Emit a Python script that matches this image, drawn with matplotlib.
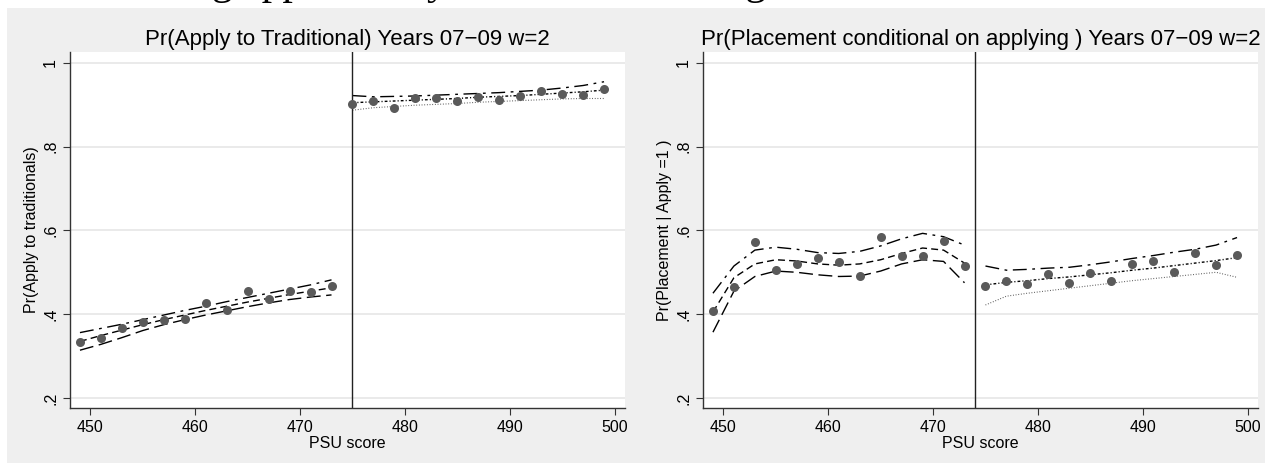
import numpy as np
import matplotlib.pyplot as plt
from matplotlib.patches import Rectangle

# ---- data ----
x_left = [449, 451, 453, 455, 457, 459, 461, 463, 465, 467, 469, 471, 473]
x_right = [475, 477, 479, 481, 483, 485, 487, 489, 491, 493, 495, 497, 499]

# panel 1: Pr(Apply to Traditional)
apply_pts_l = [0.333, 0.343, 0.366, 0.381, 0.385, 0.388, 0.427, 0.410, 0.456, 0.436, 0.456, 0.453, 0.468]
apply_pts_r = [0.902, 0.910, 0.893, 0.915, 0.915, 0.910, 0.918, 0.911, 0.921, 0.933, 0.925, 0.923, 0.937]
apply_fit_l = [0.335, 0.349, 0.362, 0.375, 0.387, 0.398, 0.409, 0.419, 0.429, 0.438, 0.447, 0.455, 0.463]
apply_hi_l = [0.356, 0.366, 0.376, 0.387, 0.398, 0.409, 0.419, 0.430, 0.440, 0.450, 0.460, 0.470, 0.482]
apply_lo_l = [0.314, 0.328, 0.344, 0.361, 0.375, 0.387, 0.398, 0.408, 0.418, 0.427, 0.435, 0.441, 0.446]
apply_fit_r = [0.905, 0.907, 0.909, 0.911, 0.913, 0.915, 0.918, 0.920, 0.922, 0.925, 0.928, 0.931, 0.935]
apply_hi_r = [0.922, 0.919, 0.920, 0.921, 0.923, 0.925, 0.927, 0.929, 0.932, 0.935, 0.940, 0.946, 0.955]
apply_lo_r = [0.887, 0.893, 0.896, 0.899, 0.901, 0.903, 0.906, 0.908, 0.910, 0.912, 0.914, 0.915, 0.915]

# panel 2: Pr(Placement | Apply = 1)
place_pts_l = [0.408, 0.466, 0.572, 0.505, 0.520, 0.533, 0.525, 0.490, 0.585, 0.540, 0.540, 0.575, 0.515]
place_pts_r = [0.467, 0.480, 0.473, 0.495, 0.475, 0.498, 0.480, 0.520, 0.528, 0.500, 0.547, 0.518, 0.542]
place_fit_l = [0.405, 0.487, 0.520, 0.530, 0.527, 0.520, 0.517, 0.520, 0.530, 0.545, 0.558, 0.553, 0.522]
place_hi_l = [0.450, 0.515, 0.553, 0.560, 0.555, 0.547, 0.545, 0.550, 0.563, 0.580, 0.593, 0.585, 0.565]
place_lo_l = [0.357, 0.455, 0.490, 0.503, 0.500, 0.494, 0.490, 0.491, 0.503, 0.520, 0.530, 0.526, 0.475]
place_fit_r = [0.470, 0.476, 0.480, 0.485, 0.489, 0.494, 0.499, 0.505, 0.510, 0.516, 0.522, 0.528, 0.535]
place_hi_r = [0.515, 0.505, 0.507, 0.510, 0.512, 0.518, 0.525, 0.533, 0.540, 0.548, 0.555, 0.565, 0.583]
place_lo_r = [0.422, 0.443, 0.450, 0.456, 0.462, 0.468, 0.474, 0.480, 0.485, 0.490, 0.495, 0.500, 0.488]

cutoffs = [475, 474]
titles = ["Pr(Apply to Traditional) Years 07\u221209 w=2",
          "Pr(Placement conditional on applying ) Years 07\u221209 w=2"]
ylabels = ["Pr(Apply to traditionals)", "Pr(Placement | Apply =1 )"]
yticks = [0.2, 0.4, 0.6, 0.8, 1.0]
yticklabels = [".2", ".4", ".6", ".8", "1"]
xticks = [450, 460, 470, 480, 490, 500]

plt.rcParams['font.family'] = ['Liberation Sans', 'DejaVu Sans']

fig = plt.figure(figsize=(12.65, 4.63), dpi=100)
fig.patch.set_facecolor('white')
fig.patches.append(Rectangle((7 / 1265, 0), 1, 1 - 8 / 463, transform=fig.transFigure,
                             facecolor='#efefef', edgecolor='none', zorder=-10))

# caption of the page above, cut off by the crop (only its lower edge shows)
fig.text(212 / 1265, 1 + 6 / 463, "g applicant by Location and Program",
         family='Liberation Serif', fontsize=30, va='baseline', ha='left')

ax1 = fig.add_axes([70 / 1265, 55 / 463, 555 / 1265, 356 / 463])
ax2 = fig.add_axes([703 / 1265, 55 / 463, 555 / 1265, 356 / 463])

panels = [
    (ax1, apply_pts_l, apply_pts_r, apply_fit_l, apply_hi_l, apply_lo_l, apply_fit_r, apply_hi_r, apply_lo_r),
    (ax2, place_pts_l, place_pts_r, place_fit_l, place_hi_l, place_lo_l, place_fit_r, place_hi_r, place_lo_r),
]

for i, (ax, pl, pr, fl, hl, ll, fr, hr, lr) in enumerate(panels):
    ax.set_facecolor('white')
    ax.set_xlim(448.05, 501.0)
    ax.set_ylim(0.176, 1.026)
    for yt in yticks:
        ax.axhline(yt, color='#e6e6e6', lw=1.2, zorder=0)

    ax.plot(x_left, hl, color='black', lw=1.0, ls=(0, (10, 4, 2, 4)))
    ax.plot(x_left, fl, color='black', lw=1.0, ls=(0, (5, 3)))
    ax.plot(x_left, ll, color='black', lw=1.0, ls=(0, (10, 4)))
    ax.plot(x_right, hr, color='black', lw=1.0, ls=(0, (10, 4, 2, 4)))
    ax.plot(x_right, fr, color='black', lw=1.0, ls=(0, (2, 1.5, 0.8, 1.5)))
    ax.plot(x_right, lr, color='#555555', lw=0.8, ls=(0, (0.8, 1.6)))

    ax.plot(x_left, pl, 'o', color='#5a5a5a', ms=6.5, mec='none', zorder=5)
    ax.plot(x_right, pr, 'o', color='#5a5a5a', ms=6.5, mec='none', zorder=5)

    ax.axvline(cutoffs[i], color='#222222', lw=1.0)

    ax.set_yticks(yticks)
    ax.set_yticklabels(yticklabels, rotation=90, va='center')
    ax.set_xticks(xticks)
    ax.tick_params(labelsize=11.5, length=5, width=0.8, color='#333333')
    for s in ['top', 'right']:
        ax.spines[s].set_visible(False)
    for s in ['left', 'bottom']:
        ax.spines[s].set_color('#333333')
        ax.spines[s].set_linewidth(1.0)

    ax.set_title(titles[i], fontsize=16, pad=5)
    ax.set_ylabel(ylabels[i], fontsize=11.5, labelpad=3)
    ax.set_xlabel("PSU score", fontsize=11.5, labelpad=1)

fig.savefig("out.png", dpi=100)
